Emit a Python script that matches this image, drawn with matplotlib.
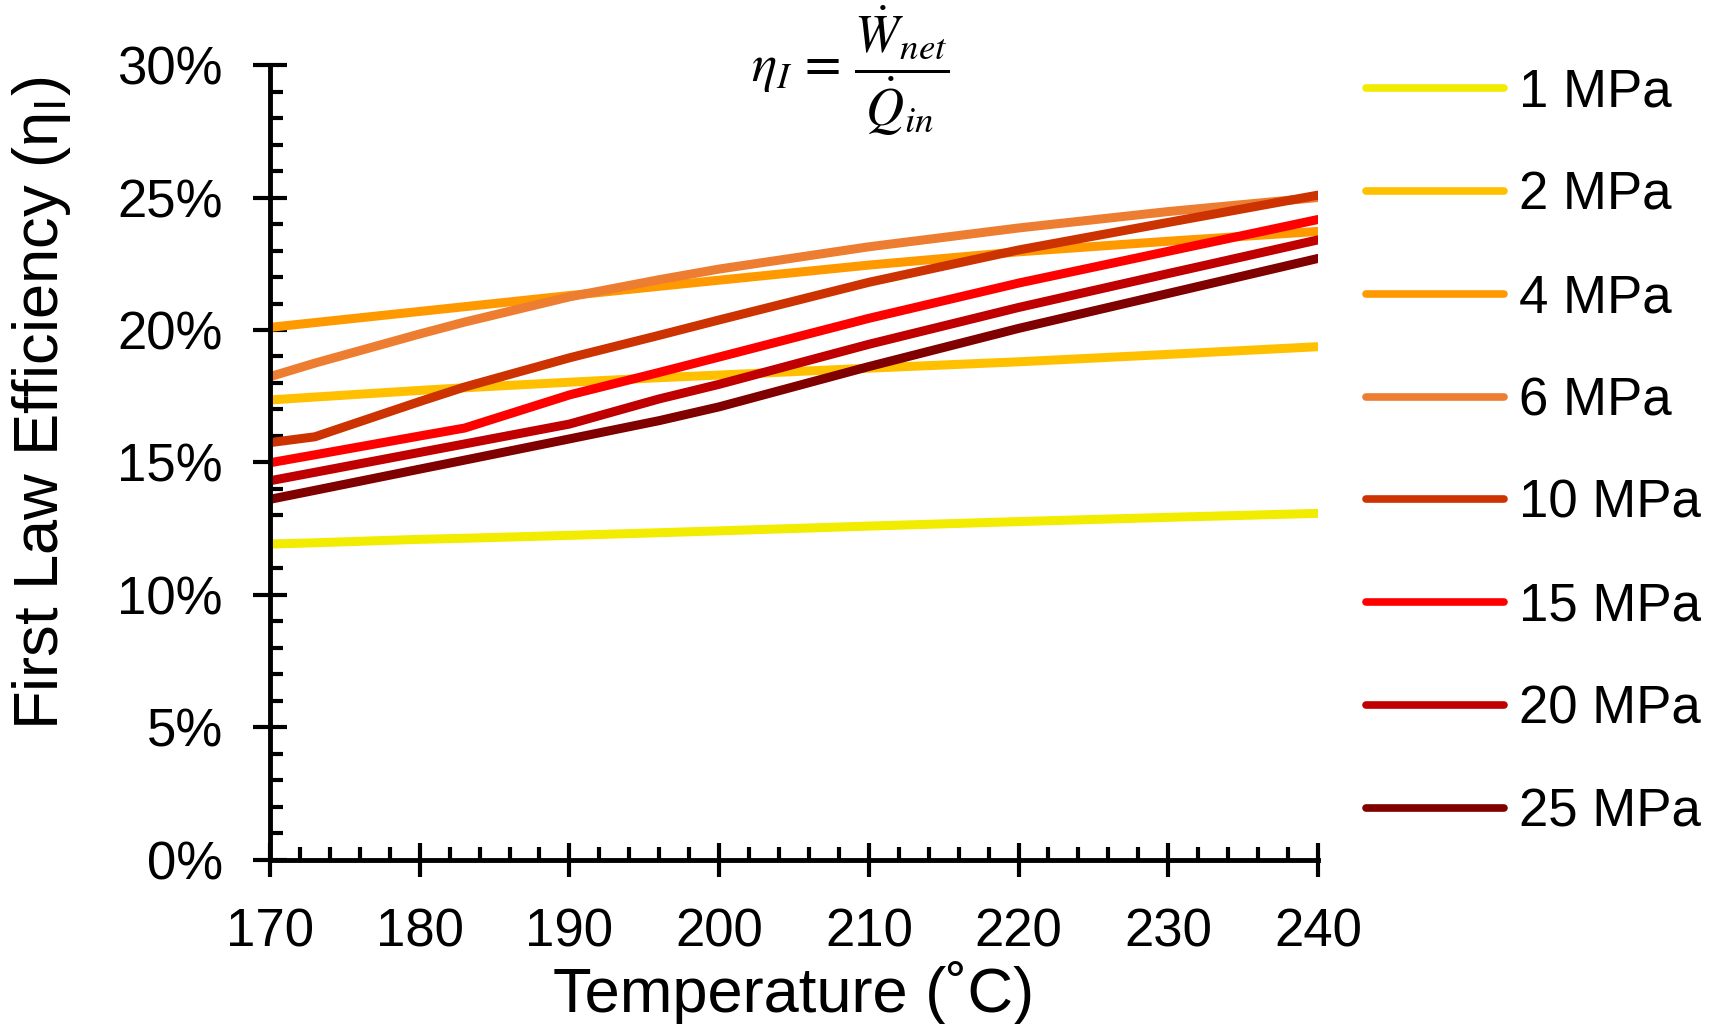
import numpy as np
import matplotlib
matplotlib.use('Agg')
import matplotlib.pyplot as plt
from matplotlib.ticker import MultipleLocator, PercentFormatter

plt.rcParams['font.family'] = ['Liberation Sans', 'DejaVu Sans']
plt.rcParams['mathtext.fontset'] = 'stix'

# temperature grid (deg C) - includes the kink points of the high-pressure curves
temps = [170, 173, 180, 183, 190, 196, 200, 210, 220, 230, 240]

# first law efficiency (%)
eff_1mpa = [11.92, 11.97, 12.10, 12.14, 12.25, 12.35, 12.42, 12.60, 12.77, 12.93, 13.08]
eff_2mpa = [17.36, 17.47, 17.72, 17.82, 18.03, 18.20, 18.30, 18.56, 18.80, 19.08, 19.37]
eff_4mpa = [20.10, 20.28, 20.70, 20.88, 21.30, 21.65, 21.88, 22.45, 22.95, 23.35, 23.72]
eff_6mpa = [18.24, 18.75, 19.85, 20.30, 21.25, 21.90, 22.30, 23.14, 23.85, 24.47, 25.00]
eff_10mpa = [15.75, 15.97, 17.30, 17.85, 18.95, 19.80, 20.38, 21.80, 23.02, 24.06, 25.09]
eff_15mpa = [14.99, 15.29, 16.00, 16.30, 17.55, 18.40, 18.98, 20.44, 21.77, 22.97, 24.17]
eff_20mpa = [14.31, 14.63, 15.38, 15.70, 16.45, 17.40, 17.95, 19.46, 20.85, 22.13, 23.40]
eff_25mpa = [13.61, 13.95, 14.75, 15.09, 15.89, 16.58, 17.10, 18.62, 20.06, 21.38, 22.70]

labels = ['1 MPa', '2 MPa', '4 MPa', '6 MPa', '10 MPa', '15 MPa', '20 MPa', '25 MPa']
colors = ['#F2EC00', '#FFC000', '#FF9900', '#ED7D31', '#CC3300', '#FF0000', '#C00000', '#800000']
series = [eff_1mpa, eff_2mpa, eff_4mpa, eff_6mpa, eff_10mpa, eff_15mpa, eff_20mpa, eff_25mpa]

fig = plt.figure(figsize=(17.21, 10.24), dpi=100)
ax = fig.add_axes([0.1569, 0.1602, 0.6089, 0.7763])

for vals, lab, col in zip(series, labels, colors):
    ax.plot(temps, vals, color=col, lw=6.5, label=lab, solid_capstyle='round')

ax.set_xlim(170, 240)
ax.set_ylim(0, 30)
ax.xaxis.set_major_locator(MultipleLocator(10))
ax.xaxis.set_minor_locator(MultipleLocator(2))
ax.yaxis.set_major_locator(MultipleLocator(5))
ax.yaxis.set_minor_locator(MultipleLocator(1))
ax.yaxis.set_major_formatter(PercentFormatter(decimals=0))

for s in ['top', 'right']:
    ax.spines[s].set_visible(False)
for s in ['left', 'bottom']:
    ax.spines[s].set_linewidth(3.5)

ax.tick_params(which='major', direction='inout', length=24, width=3, labelsize=38, pad=22)
ax.tick_params(which='minor', direction='in', length=9.5, width=3)

ax.set_xlabel('Temperature (˚C)', fontsize=45.5)
ax.set_ylabel('First Law Efficiency (η$_\\mathregular{I}$)', fontsize=45.5)
ax.xaxis.set_label_coords(0.5, -0.167)
ax.xaxis.label.set_va('center')
ax.yaxis.set_label_coords(-0.2176, 0.575)
ax.yaxis.label.set_va('center')

fig.text(0.494, 0.931, r'$\eta_I\,=\,\dfrac{\dot{W}_{net}}{\dot{Q}_{in}}$',
         fontsize=38, ha='center', va='center')

leg = ax.legend(loc='upper left', bbox_to_anchor=(1.026, 1.023), frameon=False,
                fontsize=38, handlelength=2.6, handletextpad=0.3, labelspacing=1.0,
                borderaxespad=0)
for h in leg.get_lines():
    h.set_linewidth(5.5)
    h.set_solid_capstyle('round')

fig.savefig('out.png', dpi=100)
